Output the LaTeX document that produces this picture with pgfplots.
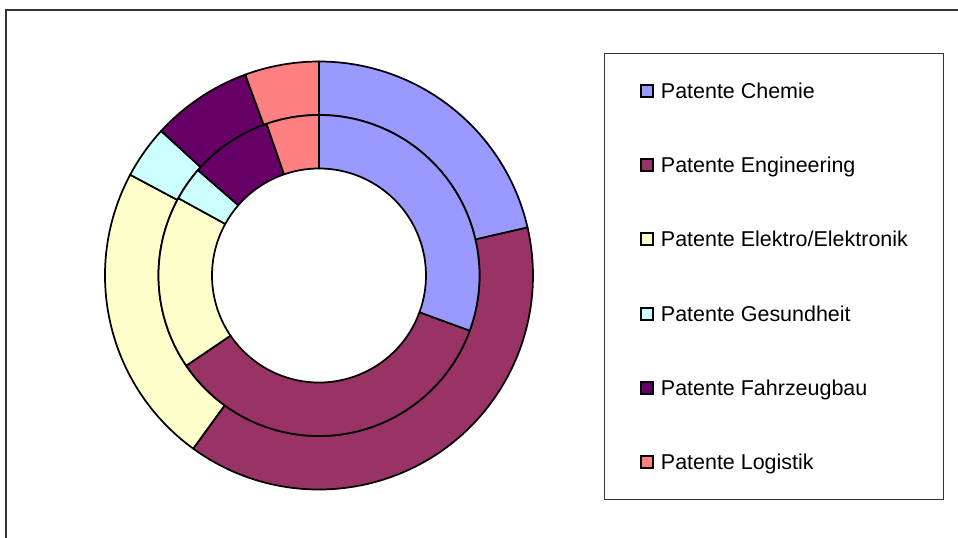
\documentclass[border=0pt]{standalone}
\usepackage{pgfplots}
\pgfplotsset{compat=1.18}
\usepackage{fontspec}
\setmainfont{Liberation Sans}
\definecolor{cChem}{HTML}{9999FF}
\definecolor{cEng}{HTML}{993366}
\definecolor{cElek}{HTML}{FFFFCC}
\definecolor{cGes}{HTML}{CCFFFF}
\definecolor{cFahr}{HTML}{660066}
\definecolor{cLog}{HTML}{FF8080}
% ring: #1 = inner radius, #2 = outer radius (axis units), #3 = list value(%)/colour
\newcommand\ring[3]{%
  \gdef\cum{0}%
  \foreach \v/\c in {#3} {%
    \pgfmathsetmacro\aS{90-3.6*\cum}%
    \pgfmathsetmacro\aE{90-3.6*(\cum+\v)}%
    \pgfmathsetmacro\xa{#1*cos(\aS)}\pgfmathsetmacro\ya{#1*sin(\aS)}%
    \pgfmathsetmacro\xb{#2*cos(\aE)}\pgfmathsetmacro\yb{#2*sin(\aE)}%
    \pgfmathsetmacro\ra{#1*160.5}\pgfmathsetmacro\rb{#2*160.5}%
    \edef\temp{\noexpand\filldraw[fill=\c,draw=black,line width=1.3pt,line join=round] (axis cs:\xa,\ya) arc[start angle=\aS,end angle=\aE,radius=\ra pt] -- (axis cs:\xb,\yb) arc[start angle=\aE,end angle=\aS,radius=\rb pt] -- cycle;}%
    \temp
    \pgfmathsetmacro\nc{\cum+\v}\global\let\cum\nc
  }}
\pgfplotsset{sq/.style={legend image code/.code={\filldraw[fill=#1,draw=black,line width=1.5pt] (0.75pt,-4.5pt) rectangle (9.75pt,4.5pt);}}}
\begin{document}
\begin{tikzpicture}
\useasboundingbox (0,0) rectangle (718.5pt,-403.5pt);
\fill[white] (0,0) rectangle (718.5pt,-403.5pt);
\draw[line width=1.1pt, black!80] (4.5pt,-403.5pt) -- (4.5pt,-7.5pt) -- (718.5pt,-7.5pt);
\begin{axis}[at={(239.25pt,-206.625pt)}, anchor=center, scale only axis,
  width=321pt, height=321pt, xmin=-1, xmax=1, ymin=-1, ymax=1,
  hide axis, clip=false, legend cell align=left,
  legend style={at={(1.1659,1.0210)}, anchor=north west, draw=black!80, line width=0.9pt,
    inner xsep=26.5pt, inner ysep=21.5pt, row sep=41.95pt, column sep=5.25pt,
    font=\fontsize{16.1}{18}\selectfont,
    nodes={inner sep=0pt, text height=12.5pt, text depth=1.2pt}}]
\ring{0.75}{1}{21.4/cChem, 38.6/cEng, 22.8/cElek, 4.0/cGes, 7.6/cFahr, 5.6/cLog}
\ring{0.5}{0.75}{30.6/cChem, 34.9/cEng, 17.5/cElek, 3.4/cGes, 8.3/cFahr, 5.3/cLog}
\addlegendimage{sq=cChem}\addlegendentry{Patente Chemie}
\addlegendimage{sq=cEng}\addlegendentry{Patente Engineering}
\addlegendimage{sq=cElek}\addlegendentry{Patente Elektro/Elektronik}
\addlegendimage{sq=cGes}\addlegendentry{Patente Gesundheit}
\addlegendimage{sq=cFahr}\addlegendentry{Patente Fahrzeugbau}
\addlegendimage{sq=cLog}\addlegendentry{Patente Logistik}
\end{axis}
\end{tikzpicture}
\end{document}
